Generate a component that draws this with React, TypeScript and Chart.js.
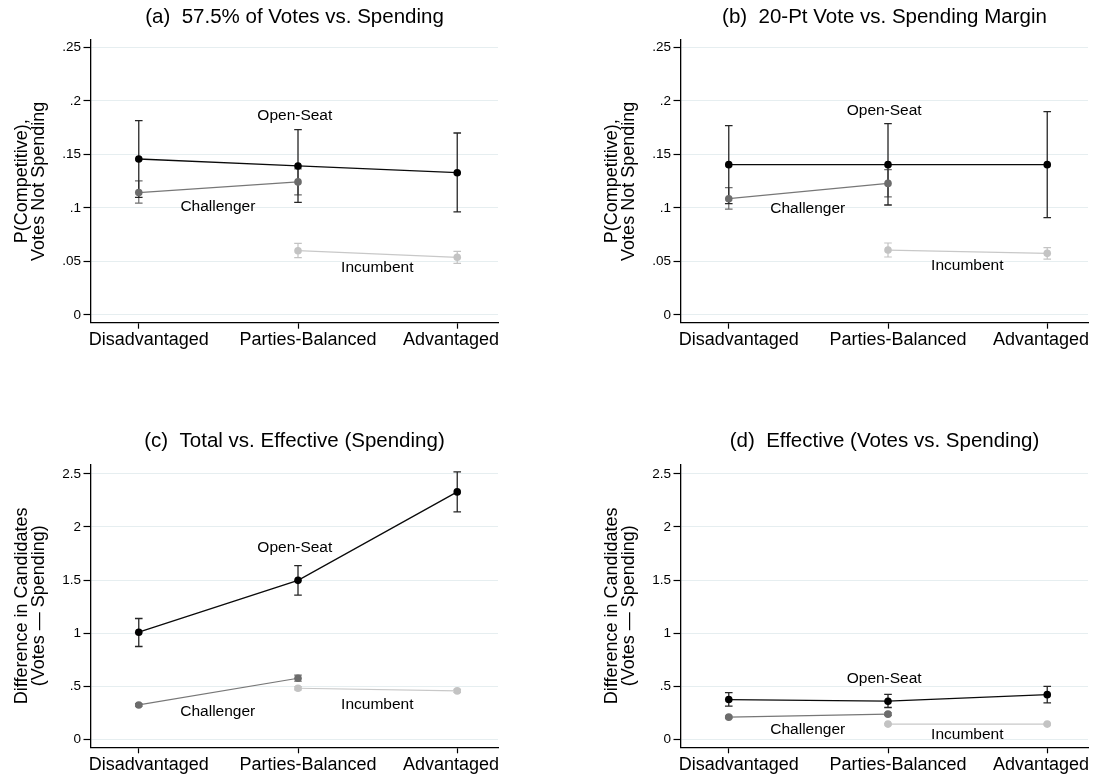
import { useEffect, useRef } from 'react';
import { Chart, registerables } from 'chart.js';

Chart.register(...registerables);

const FONT = '"Liberation Sans", Arial, Helvetica, sans-serif';

const categories = ['Disadvantaged', 'Parties-Balanced', 'Advantaged'];
const seriesNames = ['Open-Seat', 'Challenger', 'Incumbent'];

const probTicks = [0, 0.05, 0.1, 0.15, 0.2, 0.25];
const diffTicks = [0, 0.5, 1, 1.5, 2, 2.5];

// (a) 57.5% of Votes vs. Spending
const aOpen = [0.1458, 0.1393, 0.133];
const aOpenLo = [0.11, 0.1053, 0.0963];
const aOpenHi = [0.1816, 0.1733, 0.1701];
const aChal = [0.1144, 0.1244, null];
const aChalLo = [0.1045, 0.1122, null];
const aChalHi = [0.1253, 0.1366, null];
const aInc = [null, 0.0601, 0.0539];
const aIncLo = [null, 0.0536, 0.0483];
const aIncHi = [null, 0.067, 0.0595];

// (b) 20-Pt Vote vs. Spending Margin
const bOpen = [0.1405, 0.1405, 0.1405];
const bOpenLo = [0.104, 0.1028, 0.091];
const bOpenHi = [0.177, 0.1788, 0.19];
const bChal = [0.1087, 0.123, null];
const bChalLo = [0.099, 0.1104, null];
const bChalHi = [0.119, 0.1358, null];
const bInc = [null, 0.0607, 0.0576];
const bIncLo = [null, 0.0542, 0.0523];
const bIncHi = [null, 0.0673, 0.063];

// (c) Total vs. Effective (Spending)
const cOpen = [1.009, 1.497, 2.33];
const cOpenLo = [0.874, 1.358, 2.142];
const cOpenHi = [1.138, 1.635, 2.519];
const cChal = [0.324, 0.575, null];
const cChalLo = [0.312, 0.547, null];
const cChalHi = [0.336, 0.604, null];
const cInc = [null, 0.481, 0.456];
const cIncLo = [null, 0.466, 0.441];
const cIncHi = [null, 0.496, 0.471];

// (d) Effective (Votes vs. Spending)
const dOpen = [0.3745, 0.359, 0.421];
const dOpenLo = [0.312, 0.3, 0.343];
const dOpenHi = [0.44, 0.424, 0.4995];
const dChal = [0.209, 0.237, null];
const dChalLo = [0.199, 0.225, null];
const dChalHi = [0.219, 0.249, null];
const dInc = [null, 0.1436, 0.1436];
const dIncLo = [null, 0.136, 0.136];
const dIncHi = [null, 0.151, 0.151];

type Val = number | null;

const STYLES = [
  { marker: '#000000', line: '#0a0a0a', bar: '#262626', width: 1.3 },
  { marker: '#6c6c6c', line: '#777777', bar: '#6e6e6e', width: 1.2 },
  { marker: '#c3c3c3', line: '#c8c8c8', bar: '#c3c3c3', width: 1.2 },
];

type Series = { name: string; values: Val[]; lo: Val[]; hi: Val[] };
type Note = { text: string; x: number; y: number };

type PanelSpec = {
  title: string;
  yTitle: string[];
  yTicks: number[];
  yMin: number;
  yMax: number;
  series: Series[];
  notes: Note[];
  left: number;
  top: number;
  width: number;
  height: number;
  padLeft: number;
  padRight: number;
  titleTop: number;
  titleBottom: number;
  xAxisH: number;
};

const s = (i: number, values: Val[], lo: Val[], hi: Val[]): Series => ({
  name: seriesNames[i],
  values,
  lo,
  hi,
});

const probTitle = ['P(Competitive),', 'Votes Not Spending'];
const diffTitle = ['Difference in Candidates', '(Votes \u2014 Spending)'];

const TOP = { top: 0, height: 390, titleTop: 4.7, titleBottom: 10.7, xAxisH: 67.3 };
const BOTTOM = { top: 400, height: 376, titleTop: 29.4, titleBottom: 10.3, xAxisH: 28.7 };
const LEFT = { left: 0, width: 545, padLeft: 0, padRight: 47 };
const RIGHT = { left: 545, width: 550, padLeft: 45, padRight: 7 };

const panels: PanelSpec[] = [
  {
    title: '(a)  57.5% of Votes vs. Spending',
    yTitle: probTitle,
    yTicks: probTicks,
    yMin: -0.0072,
    yMax: 0.257,
    series: [s(0, aOpen, aOpenLo, aOpenHi), s(1, aChal, aChalLo, aChalHi), s(2, aInc, aIncLo, aIncHi)],
    notes: [
      { text: 'Open-Seat', x: 0.98, y: 0.1863 },
      { text: 'Challenger', x: 0.497, y: 0.1011 },
      { text: 'Incumbent', x: 1.498, y: 0.0442 },
    ],
    ...TOP,
    ...LEFT,
  },
  {
    title: '(b)  20-Pt Vote vs. Spending Margin',
    yTitle: probTitle,
    yTicks: probTicks,
    yMin: -0.0072,
    yMax: 0.257,
    series: [s(0, bOpen, bOpenLo, bOpenHi), s(1, bChal, bChalLo, bChalHi), s(2, bInc, bIncLo, bIncHi)],
    notes: [
      { text: 'Open-Seat', x: 0.976, y: 0.191 },
      { text: 'Challenger', x: 0.496, y: 0.099 },
      { text: 'Incumbent', x: 1.498, y: 0.046 },
    ],
    ...TOP,
    ...RIGHT,
  },
  {
    title: '(c)  Total vs. Effective (Spending)',
    yTitle: diffTitle,
    yTicks: diffTicks,
    yMin: -0.075,
    yMax: 2.59,
    series: [s(0, cOpen, cOpenLo, cOpenHi), s(1, cChal, cChalLo, cChalHi), s(2, cInc, cIncLo, cIncHi)],
    notes: [
      { text: 'Open-Seat', x: 0.98, y: 1.8 },
      { text: 'Challenger', x: 0.496, y: 0.258 },
      { text: 'Incumbent', x: 1.498, y: 0.324 },
    ],
    ...BOTTOM,
    ...LEFT,
  },
  {
    title: '(d)  Effective (Votes vs. Spending)',
    yTitle: diffTitle,
    yTicks: diffTicks,
    yMin: -0.075,
    yMax: 2.59,
    series: [s(0, dOpen, dOpenLo, dOpenHi), s(1, dChal, dChalLo, dChalHi), s(2, dInc, dIncLo, dIncHi)],
    notes: [
      { text: 'Open-Seat', x: 0.976, y: 0.568 },
      { text: 'Challenger', x: 0.496, y: 0.087 },
      { text: 'Incumbent', x: 1.498, y: 0.044 },
    ],
    ...BOTTOM,
    ...RIGHT,
  },
];

const fmtTick = (v: number) => (v === 0 ? '0' : String(+v.toFixed(3)).replace(/^0\./, '.'));

// Confidence-interval caps, series name labels and category labels
const decorPlugin = (spec: PanelSpec) => ({
  id: 'panelDecor',
  beforeDatasetsDraw(chart: any) {
    const { ctx } = chart;
    const xs = chart.scales.x;
    const ys = chart.scales.y;
    ctx.save();
    for (let k = spec.series.length - 1; k >= 0; k--) {
      const ser = spec.series[k];
      const st = STYLES[k];
      ctx.strokeStyle = st.bar;
      ctx.lineWidth = st.width;
      ser.lo.forEach((lo, i) => {
        const hi = ser.hi[i];
        if (lo == null || hi == null) return;
        const px = xs.getPixelForValue(i);
        const y1 = ys.getPixelForValue(lo);
        const y2 = ys.getPixelForValue(hi);
        const cap = 3.8;
        ctx.beginPath();
        ctx.moveTo(px, y1);
        ctx.lineTo(px, y2);
        ctx.moveTo(px - cap, y1);
        ctx.lineTo(px + cap, y1);
        ctx.moveTo(px - cap, y2);
        ctx.lineTo(px + cap, y2);
        ctx.stroke();
      });
    }
    ctx.restore();
  },
  afterDatasetsDraw(chart: any) {
    const { ctx } = chart;
    const xs = chart.scales.x;
    const ys = chart.scales.y;
    ctx.save();
    ctx.font = `15.5px ${FONT}`;
    ctx.fillStyle = '#000';
    ctx.textAlign = 'center';
    ctx.textBaseline = 'middle';
    spec.notes.forEach((n) => {
      ctx.fillText(n.text, xs.getPixelForValue(n.x), ys.getPixelForValue(n.y));
    });
    ctx.restore();
  },
  afterDraw(chart: any) {
    const { ctx, chartArea } = chart;
    const xs = chart.scales.x;
    ctx.save();
    ctx.font = `18px ${FONT}`;
    ctx.fillStyle = '#000';
    ctx.textAlign = 'center';
    ctx.textBaseline = 'alphabetic';
    categories.forEach((c, i) => {
      const w = ctx.measureText(c).width;
      let cx = xs.getPixelForValue(i) + 10;
      const limit = chartArea.right + 1;
      if (cx + w / 2 > limit) cx = limit - w / 2;
      ctx.fillText(c, cx, chartArea.bottom + 22.3);
    });
    ctx.restore();
  },
});

function Panel({ spec }: { spec: PanelSpec }) {
  const ref = useRef<HTMLCanvasElement>(null);

  useEffect(() => {
    const canvas = ref.current;
    if (!canvas) return;
    const datasets = spec.series.map((ser, k) => ({
      label: ser.name,
      data: ser.values.map((v, i) => ({ x: i, y: v })),
      borderColor: STYLES[k].line,
      borderWidth: STYLES[k].width,
      backgroundColor: STYLES[k].marker,
      pointBackgroundColor: STYLES[k].marker,
      pointBorderWidth: 0,
      pointRadius: 3.8,
      tension: 0,
      spanGaps: false,
      fill: false,
    }));

    const chart = new Chart(canvas, {
      type: 'line',
      data: { datasets },
      options: {
        responsive: false,
        animation: false,
        devicePixelRatio: 1,
        events: [],
        layout: { padding: { left: spec.padLeft, right: spec.padRight, top: 0, bottom: 0 } },
        plugins: {
          legend: { display: false },
          tooltip: { enabled: false },
          title: {
            display: true,
            text: spec.title,
            fullSize: false,
            color: '#000',
            font: { family: FONT, size: 20.5, weight: 'normal', lineHeight: 1.2 },
            padding: { top: spec.titleTop, bottom: spec.titleBottom },
          },
        },
        scales: {
          x: {
            type: 'linear',
            min: -0.3,
            max: 2.256,
            afterBuildTicks: (sc: any) => {
              sc.ticks = categories.map((_, i) => ({ value: i }));
            },
            afterFit: (sc: any) => {
              sc.height = spec.xAxisH;
            },
            grid: {
              display: true,
              drawOnChartArea: false,
              drawTicks: true,
              tickLength: 6,
              tickColor: '#000',
              tickWidth: 1.2,
            },
            border: { display: true, color: '#000', width: 1.3 },
            ticks: { display: false },
          },
          y: {
            type: 'linear',
            min: spec.yMin,
            max: spec.yMax,
            afterBuildTicks: (sc: any) => {
              sc.ticks = spec.yTicks.map((v) => ({ value: v }));
            },
            afterFit: (sc: any) => {
              sc.width = 91;
            },
            grid: {
              color: '#e6eef0',
              lineWidth: 1,
              drawTicks: true,
              tickLength: 7.5,
              tickColor: '#000',
              tickWidth: 1.2,
            },
            border: { display: true, color: '#000', width: 1.3 },
            ticks: {
              color: '#000',
              font: { family: FONT, size: 13.5 },
              padding: 2.5,
              autoSkip: false,
              callback: (v: any) => fmtTick(Number(v)),
            },
            title: {
              display: true,
              text: spec.yTitle,
              color: '#000',
              font: { family: FONT, size: 18, lineHeight: 0.96 },
              padding: { top: 13.1, bottom: 0 },
            },
          },
        },
      },
      plugins: [decorPlugin(spec)],
    } as any);

    return () => chart.destroy();
  }, [spec]);

  return (
    <canvas
      ref={ref}
      width={spec.width}
      height={spec.height}
      style={{
        position: 'absolute',
        left: spec.left,
        top: spec.top,
        width: spec.width,
        height: spec.height,
      }}
    />
  );
}

export default function App() {
  return (
    <div
      style={{
        position: 'absolute',
        left: 0,
        top: 0,
        width: 1095,
        height: 776,
        background: '#fff',
        overflow: 'hidden',
      }}
    >
      {panels.map((p) => (
        <Panel key={p.title} spec={p} />
      ))}
    </div>
  );
}
